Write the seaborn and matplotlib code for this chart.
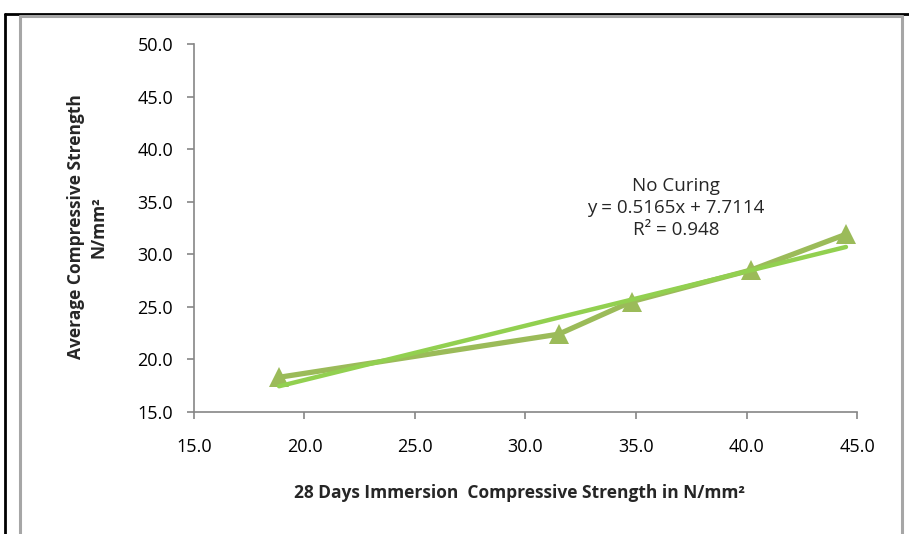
import numpy as np
import pandas as pd
import matplotlib
matplotlib.use("Agg")
import matplotlib.pyplot as plt
from matplotlib.lines import Line2D
import seaborn as sns

# data
immersion_28d = [18.85, 31.5, 34.8, 40.2, 44.5]
avg_strength = [18.3, 22.4, 25.5, 28.5, 31.9]
slope, intercept, r2 = 0.5165, 7.7114, 0.948
series_name = "No Curing"

x_ticks = [15, 20, 25, 30, 35, 40, 45]
y_ticks = [15, 20, 25, 30, 35, 40, 45, 50]

sns.set_style("ticks")
plt.rcParams['font.family'] = ['Open Sans', 'DejaVu Sans']

df = pd.DataFrame({"x": immersion_28d, "y": avg_strength})
xt = np.array([min(immersion_28d), max(immersion_28d)])
trend = pd.DataFrame({"x": xt, "y": slope * xt + intercept})

fig = plt.figure(figsize=(9.09, 5.34), dpi=100)
ax = fig.add_axes([0.2134, 0.2285, 0.7294, 0.6891])

sns.lineplot(data=df, x="x", y="y", ax=ax, color="#9BBB59", linewidth=3.8,
             marker="^", markersize=15, markeredgewidth=0, zorder=3)
sns.lineplot(data=trend, x="x", y="y", ax=ax, color="#92D050", linewidth=3.2, zorder=4)

ax.set_xlim(15, 45)
ax.set_ylim(15, 50)
ax.set_xticks(x_ticks)
ax.set_yticks(y_ticks)
ax.set_xticklabels([f"{v:.1f}" for v in x_ticks])
ax.set_yticklabels([f"{v:.1f}" for v in y_ticks])
ax.tick_params(labelsize=13, colors="#868686", labelcolor="black", length=5, width=1.2)
ax.yaxis.set_tick_params(pad=10)
ax.xaxis.set_tick_params(pad=14)
for s in ["top", "right"]:
    ax.spines[s].set_visible(False)
for s in ["left", "bottom"]:
    ax.spines[s].set_color("#868686")
    ax.spines[s].set_linewidth(1.2)

ax.set_xlabel("")
ax.set_ylabel("")
fig.text(0.572, 0.077, "28 Days Immersion  Compressive Strength in N/mm²",
         ha="center", va="center", fontsize=12.5, fontweight="bold")
fig.text(0.096, 0.575, "Average Compressive Strength\nN/mm²", ha="center", va="center",
         rotation=90, fontsize=12.5, fontweight="bold", linespacing=1.35)

ax.text(0.7437, 0.61, f"{series_name}\ny = {slope}x + {intercept}\nR² = {r2}",
        transform=fig.transFigure, ha="center", va="center", fontsize=13.5, linespacing=1.3)

# frame around the chart
fig.add_artist(Line2D([0.006, 1.0], [1 - 14 / 534, 1 - 14 / 534], color="black", lw=2))
fig.add_artist(Line2D([0.006, 0.006], [0.0, 1 - 14 / 534], color="black", lw=2))
fig.add_artist(Line2D([20 / 909, 902 / 909], [1 - 16 / 534, 1 - 16 / 534], color="#A6A6A6", lw=2.2))
fig.add_artist(Line2D([20 / 909, 20 / 909], [0.0, 1 - 16 / 534], color="#A6A6A6", lw=2.2))
fig.add_artist(Line2D([902 / 909, 902 / 909], [0.0, 1 - 16 / 534], color="#A6A6A6", lw=2.2))

fig.savefig("out.png", dpi=100)
